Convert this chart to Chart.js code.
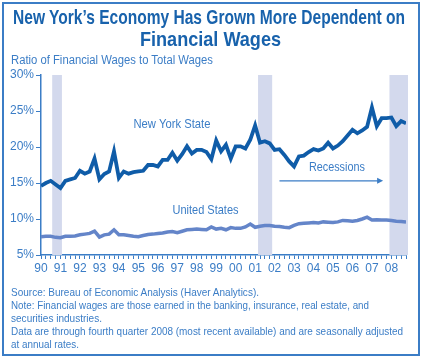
<!DOCTYPE html>
<html lang="en">
<head>
    <meta charset="UTF-8">
    <title>New York Financial Wages</title>
    <script src="https://cdn.jsdelivr.net/npm/chart.js"></script>
    <style>
        body { margin: 0; background: #fff; }
        #wrap { position: relative; width: 422px; height: 359px; font-family: "Liberation Sans", Arial, sans-serif; }
        #frame { position: absolute; left: 2px; top: 2px; width: 414px; height: 350px; border: 2px solid #3b7dc6; }
        .line { position: absolute; white-space: nowrap; color: #3b7dc6; }
        .title { color: #1862ac; font-weight: bold; font-size: 21px; line-height: 22px; }
        .sub { font-size: 12px; line-height: 14px; }
        .note { font-size: 11px; line-height: 13px; }
        canvas { position: absolute; left: 0; top: 0; }
    </style>
</head>
<body>
<div id="wrap">
    <div id="frame"></div>
    <canvas id="chart" width="422" height="359"></canvas>
    <div class="line title" data-x="13" data-w="392" style="top:6px">New York’s Economy Has Grown More Dependent on</div>
    <div class="line title" data-x="140" data-w="141" style="top:28px">Financial Wages</div>
    <div class="line sub" data-x="11" data-w="202" style="top:53px">Ratio of Financial Wages to Total Wages</div>
    <div class="line note" data-x="11" data-w="248" style="top:286px">Source: Bureau of Economic Analysis (Haver Analytics).</div>
    <div class="line note" data-x="11" data-w="358" style="top:299px">Note: Financial wages are those earned in the banking, insurance, real estate, and</div>
    <div class="line note" data-x="11" data-w="91" style="top:312px">securities industries.</div>
    <div class="line note" data-x="11" data-w="392" style="top:325px">Data are through fourth quarter 2008 (most recent available) and are seasonally adjusted</div>
    <div class="line note" data-x="11" data-w="68" style="top:338px">at annual rates.</div>
</div>

<script>
    // squeeze each text line to the width it has in the original (narrow type face)
    document.querySelectorAll('.line').forEach(el => {
        const w = el.getBoundingClientRect().width;
        el.style.left = el.dataset.x + 'px';
        el.style.transformOrigin = 'left top';
        el.style.transform = 'scaleX(' + (el.dataset.w / w) + ')';
    });

    // quarterly, 1990Q1 .. 2008Q4
    const yearLabels = ['90','91','92','93','94','95','96','97','98','99','00','01','02','03','04','05','06','07','08'];
    const nyState = [
        14.6, 15.0, 15.3, 14.8, 14.3, 15.3, 15.5, 15.7, 16.7, 16.3, 16.6, 18.4, 15.5, 16.25, 16.6, 19.4,
        15.7, 16.6, 16.3, 16.5, 16.6, 16.7, 17.5, 17.5, 17.3, 18.2, 18.2, 19.2, 18.1, 19.0, 20.1, 19.1,
        19.6, 19.6, 19.3, 18.3, 20.9, 19.4, 20.3, 18.4, 20.1, 20.1, 19.8, 21.0, 23.0, 20.6, 20.8, 20.5,
        19.6, 19.7, 18.9, 18.0, 17.3, 18.7, 18.8, 19.3, 19.7, 19.5, 19.8, 20.6, 19.8, 20.2, 20.8, 21.6,
        22.4, 21.9, 22.3, 22.8, 25.5, 22.9, 24.0, 24.0, 24.1, 22.9, 23.6, 23.3
    ];
    const unitedStates = [
        7.55, 7.6, 7.6, 7.45, 7.4, 7.6, 7.6, 7.65, 7.8, 7.9, 8.0, 8.3, 7.5, 7.8, 7.9, 8.5,
        7.8, 7.8, 7.7, 7.6, 7.55, 7.7, 7.85, 7.9, 8.0, 8.05, 8.2, 8.25, 8.1, 8.3, 8.5, 8.55,
        8.6, 8.55, 8.5, 8.9, 8.6, 8.7, 8.5, 8.8, 8.7, 8.7, 8.9, 9.3, 8.85, 9.0, 9.1, 9.1,
        9.0, 8.95, 8.85, 8.8, 9.1, 9.35, 9.4, 9.45, 9.5, 9.45, 9.6, 9.55, 9.5, 9.6, 9.8, 9.75,
        9.7, 9.8, 10.0, 10.25, 9.85, 9.9, 9.85, 9.85, 9.8, 9.7, 9.65, 9.6
    ];
    // recession shading, in quarters from 1990Q1
    const recessionStart = [2.3, 44.6, 71.6];
    const recessionEnd = [4.3, 47.5, 75.5];

    const blue = '#3b7dc6';
    const font = "'Liberation Sans', Arial, sans-serif";

    const toPoints = arr => arr.map((v, i) => ({ x: i, y: v }));

    const recessionBands = {
        id: 'recessionBands',
        beforeDatasetsDraw(chart) {
            const { ctx, chartArea, scales } = chart;
            ctx.save();
            ctx.fillStyle = '#d3d9ed';
            recessionStart.forEach((s, i) => {
                const x0 = scales.x.getPixelForValue(s);
                const x1 = Math.min(scales.x.getPixelForValue(recessionEnd[i]), chartArea.right + 2);
                ctx.fillRect(x0, chartArea.top, x1 - x0, chartArea.bottom - chartArea.top);
            });
            ctx.restore();
        }
    };

    // narrow label: text squeezed to width w, centred on (x, y)
    function narrowText(ctx, text, x, y, w) {
        const m = ctx.measureText(text).width;
        ctx.save();
        ctx.translate(x, y);
        ctx.scale(w / m, 1);
        ctx.fillText(text, 0, 0);
        ctx.restore();
    }

    const notes = {
        id: 'notes',
        afterDatasetsDraw(chart) {
            const { ctx, scales } = chart;
            const x = v => scales.x.getPixelForValue(v);
            const y = v => scales.y.getPixelForValue(v);
            ctx.save();
            ctx.fillStyle = blue;
            ctx.strokeStyle = blue;
            ctx.font = '13px ' + font;
            ctx.textAlign = 'center';
            ctx.textBaseline = 'middle';
            narrowText(ctx, 'New York State', x(26.9), y(23.2), 77);
            narrowText(ctx, 'United States', x(33.8), y(11.25), 66);
            narrowText(ctx, 'Recessions', x(60.8), y(17.1), 56);
            // arrow
            const ay = y(15.3);
            const ax0 = x(49), ax1 = x(70.3);
            ctx.lineWidth = 1.2;
            ctx.beginPath();
            ctx.moveTo(ax0, ay);
            ctx.lineTo(ax1 - 5, ay);
            ctx.stroke();
            ctx.beginPath();
            ctx.moveTo(ax1, ay);
            ctx.lineTo(ax1 - 6, ay - 3);
            ctx.lineTo(ax1 - 6, ay + 3);
            ctx.closePath();
            ctx.fill();
            ctx.restore();
        }
    };

    new Chart(document.getElementById('chart'), {
        type: 'line',
        data: {
            datasets: [{
                label: 'New York State',
                data: toPoints(nyState),
                borderColor: '#0f5ca8',
                borderWidth: 3.8,
                pointRadius: 0,
                tension: 0
            }, {
                label: 'United States',
                data: toPoints(unitedStates),
                borderColor: '#6485c9',
                borderWidth: 3.5,
                pointRadius: 0,
                tension: 0
            }]
        },
        options: {
            responsive: false,
            animation: false,
            layout: { padding: { left: 0, top: 75, right: 16, bottom: 84 } },
            plugins: { legend: { display: false }, tooltip: { enabled: false } },
            scales: {
                x: {
                    type: 'linear',
                    min: 0,
                    max: 75,
                    afterFit: s => { s.height = 20; },
                    border: { color: blue, width: 1.5 },
                    grid: { drawOnChartArea: false, color: blue, tickLength: 4, lineWidth: 1 },
                    ticks: {
                        stepSize: 1,
                        autoSkip: false,
                        maxRotation: 0,
                        padding: 2,
                        color: blue,
                        font: { family: font, size: 12 },
                        callback: v => (v % 4 === 0 ? yearLabels[v / 4] : '')
                    }
                },
                y: {
                    min: 5,
                    max: 30,
                    afterFit: s => { s.width = 41; },
                    border: { color: blue, width: 1.5 },
                    grid: { drawOnChartArea: false, color: blue, tickLength: 5 },
                    ticks: {
                        stepSize: 5,
                        padding: 2,
                        color: blue,
                        font: { family: font, size: 12 },
                        callback: v => v + '%'
                    }
                }
            }
        },
        plugins: [recessionBands, notes]
    });
</script>
</body>
</html>
